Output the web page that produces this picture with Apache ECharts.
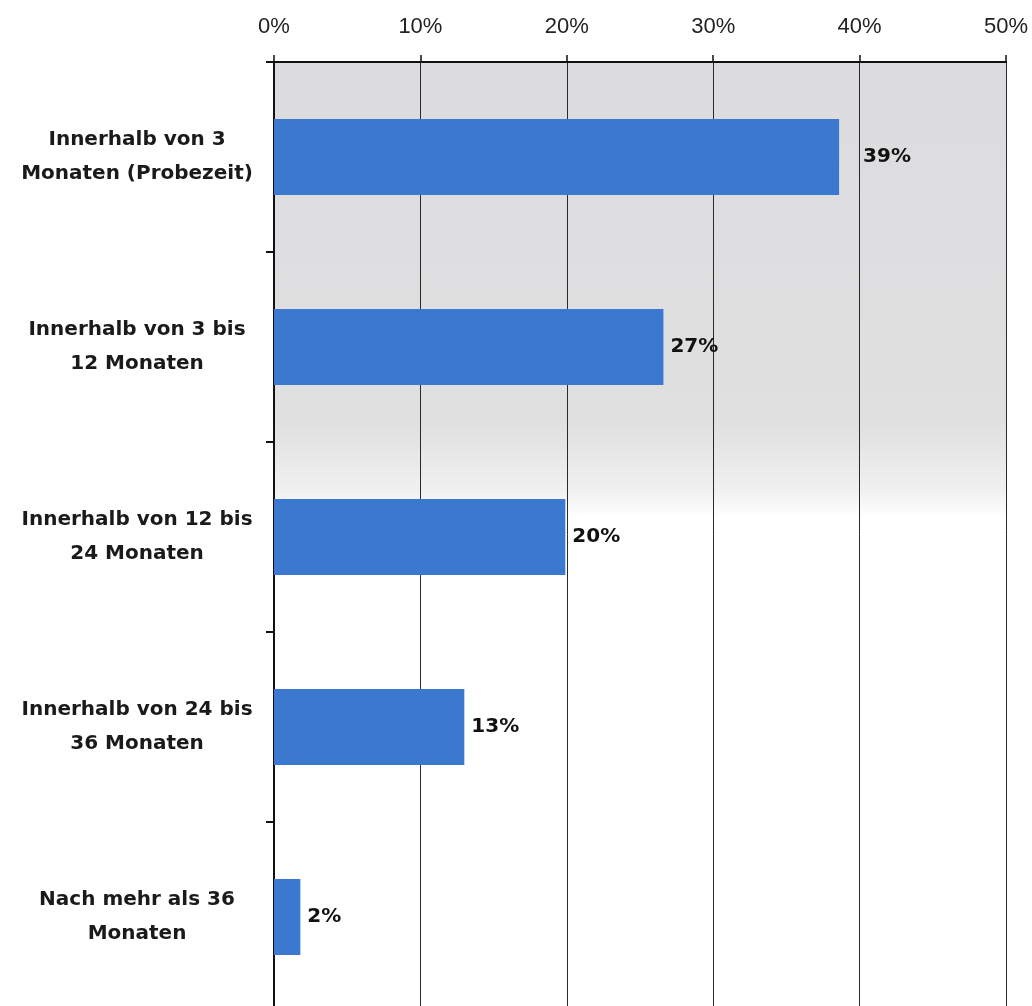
<!DOCTYPE html>
<html>
<head>
<meta charset="utf-8">
<script src="https://cdn.jsdelivr.net/npm/echarts@6/dist/echarts.min.js"></script>
<style>
html,body{margin:0;padding:0;background:#fff;overflow:hidden;}
#chart{width:1032px;height:1006px;}
</style>
</head>
<body>
<div id="chart"></div>
<script>
const categories = [
  'Innerhalb von 3\nMonaten (Probezeit)',
  'Innerhalb von 3 bis\n12 Monaten',
  'Innerhalb von 12 bis\n24 Monaten',
  'Innerhalb von 24 bis\n36 Monaten',
  'Nach mehr als 36\nMonaten'
];
const values = [38.6, 26.6, 19.9, 13.0, 1.8];
const valueLabels = ['39%', '27%', '20%', '13%', '2%'];
const axisMin = 0, axisMax = 50, axisStep = 10;

const chart = echarts.init(document.getElementById('chart'), null, {renderer: 'canvas'});
const data = values.map((v, i) => ({
  value: v,
  label: {distance: i === 0 ? 24 : 7}
}));
chart.setOption({
  animation: false,
  backgroundColor: '#ffffff',
  grid: {
    left: 274, top: 62, width: 732, height: 950,
    containLabel: false, outerBoundsMode: 'none',
    show: true, borderWidth: 0,
    backgroundColor: {
      type: 'linear', x: 0, y: 0, x2: 0, y2: 1,
      colorStops: [
        {offset: 0, color: '#dcdcdf'},
        {offset: 0.38, color: '#e0e0e1'},
        {offset: 0.45, color: '#f0f0f0'},
        {offset: 0.48, color: '#ffffff'},
        {offset: 1, color: '#ffffff'}
      ]
    }
  },
  xAxis: {
    type: 'value', position: 'top',
    min: axisMin, max: axisMax, interval: axisStep,
    axisLine: {show: true, lineStyle: {color: '#111', width: 2}},
    axisTick: {show: true, length: 7, lineStyle: {color: '#111', width: 1.5}},
    axisLabel: {
      formatter: '{value}%', margin: 24,
      fontFamily: "'Liberation Sans', Arial, sans-serif", fontSize: 22, color: '#222'
    },
    splitLine: {show: true, lineStyle: {color: '#2a2a2a', width: 1}}
  },
  yAxis: {
    type: 'category', inverse: true, data: categories,
    axisLine: {show: true, lineStyle: {color: '#111', width: 2}},
    axisTick: {show: true, length: 8, alignWithLabel: false, lineStyle: {color: '#111', width: 2}},
    axisLabel: {
      align: 'center', margin: 137, lineHeight: 34,
      fontFamily: "'DejaVu Sans', sans-serif", fontWeight: 'bold', fontSize: 20, color: '#1a1a1a'
    },
    splitLine: {show: false}
  },
  series: [{
    type: 'bar', data: data, barWidth: 76,
    itemStyle: {color: '#3b79d1'},
    label: {
      show: true, position: 'right',
      formatter: p => valueLabels[p.dataIndex],
      fontFamily: "'DejaVu Sans', sans-serif", fontWeight: 'bold', fontSize: 20, color: '#111'
    }
  }]
});
</script>
</body>
</html>
